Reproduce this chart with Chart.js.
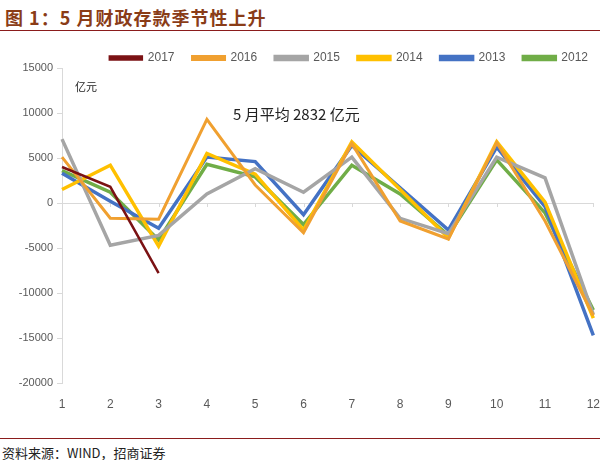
<!DOCTYPE html>
<html>
<head>
<meta charset="utf-8">
<script src="https://cdn.jsdelivr.net/npm/chart.js@4.4.0/dist/chart.umd.min.js"></script>
<style>
  body { margin: 0; width: 600px; height: 460px; background: #fff; position: relative; overflow: hidden; font-family: "Noto Sans CJK SC", sans-serif; }
  .title { position: absolute; left: 5px; top: 4px; font-size: 18px; font-weight: bold; color: #8a3c17; letter-spacing: 1px; }
  .rule { position: absolute; left: 0; width: 600px; height: 0; border-top: 1.5px solid #8b1c1c; }
  .src { position: absolute; left: 2px; top: 443px; font-size: 13px; color: #222; }
  .note { position: absolute; color: #222; white-space: nowrap; }
  #wrap { position: absolute; left: 0; top: 34px; width: 606px; height: 378px; }
</style>
</head>
<body>
<div class="title">图 1：5 月财政存款季节性上升</div>
<div class="rule" style="top:30px"></div>
<div id="wrap"><canvas id="c"></canvas></div>
<div class="note" style="left:75px; top:78px; font-size:11px;">亿元</div>
<div class="note" style="left:233px; top:103px; font-size:15px;">5 月平均 2832 亿元</div>
<div class="rule" style="top:438px"></div>
<div class="src">资料来源：WIND，招商证券</div>

<script>
// months on the x axis
const months = ['1', '2', '3', '4', '5', '6', '7', '8', '9', '10', '11', '12'];

// monthly change of fiscal deposits, 亿元
const y2017 = [4000, 1800, -7800, null, null, null, null, null, null, null, null, null];
const y2016 = [5100, -1700, -1800, 9300, 2000, -3300, 6600, -2000, -4000, 6700, -2000, -12500];
const y2015 = [7100, -4700, -3600, 1000, 3800, 1200, 5100, -1700, -3400, 5100, 2800, -12400];
const y2014 = [1500, 4200, -4800, 5500, 3200, -3000, 6800, 1500, -3900, 6800, 100, -12800];
const y2013 = [3300, 200, -2800, 5100, 4600, -1300, 6400, 1700, -3000, 6200, -400, -14700];
const y2012 = [3600, 1200, -4100, 4300, 2900, -2400, 4200, 1000, -3600, 4800, -1100, -11900];

const yTicks = [15000, 10000, 5000, 0, -5000, -10000, -15000, -20000];

const tickGrey = '#595959';

function line(label, data, color, width) {
  return {
    label: label,
    data: data,
    borderColor: color,
    backgroundColor: color,
    borderWidth: width,
    pointRadius: 0,
    tension: 0,
    spanGaps: false
  };
}

// small tick marks sitting on the zero line, like the excel original
const zeroTicks = {
  id: 'zeroTicks',
  beforeDatasetsDraw(chart) {
    const ctx = chart.ctx;
    const x = chart.scales.x, y = chart.scales.y;
    const y0 = y.getPixelForValue(0);
    ctx.save();
    ctx.strokeStyle = '#d9d9d9';
    ctx.lineWidth = 1;
    months.forEach((m, i) => {
      const px = Math.round(x.getPixelForValue(i)) + 0.5;
      ctx.beginPath();
      ctx.moveTo(px, y0);
      ctx.lineTo(px, y0 + 4);
      ctx.stroke();
    });
    ctx.restore();
  }
};

const chart = new Chart(document.getElementById('c'), {
  type: 'line',
  data: {
    labels: months,
    datasets: [
      line('2017', y2017, '#7b1214', 2.5),
      line('2016', y2016, '#f0a030', 3),
      line('2015', y2015, '#a5a5a5', 3.5),
      line('2014', y2014, '#ffc000', 3.5),
      line('2013', y2013, '#4472c4', 3.5),
      line('2012', y2012, '#70ad47', 3.5)
    ]
  },
  plugins: [zeroTicks],
  options: {
    responsive: true,
    maintainAspectRatio: false,
    animation: false,
    layout: { padding: { left: 0, right: 0, top: 0, bottom: 0 } },
    plugins: {
      legend: {
        position: 'top',
        align: 'end',
        labels: {
          boxWidth: 32,
          boxHeight: 3,
          padding: 18,
          color: tickGrey,
          font: { family: 'Liberation Sans', size: 12 }
        }
      },
      tooltip: { enabled: false }
    },
    scales: {
      x: {
        offset: false,
        grid: { display: false },
        border: { display: false },
        ticks: { color: tickGrey, font: { family: 'Liberation Sans', size: 12 }, padding: 6, maxRotation: 0 },
        afterFit(scale) { scale.height = 29; }
      },
      y: {
        min: -20000,
        max: 15000,
        afterBuildTicks(scale) { scale.ticks = yTicks.map(v => ({ value: v })); },
        grid: {
          color: ctx => (ctx.tick && ctx.tick.value === 0 ? '#d9d9d9' : 'rgba(0,0,0,0)'),
          tickColor: '#d9d9d9',
          tickLength: 5
        },
        border: { display: true, color: '#d9d9d9' },
        ticks: {
          color: tickGrey,
          font: { family: 'Liberation Sans', size: 11 },
          padding: 4,
          callback: v => String(v)
        },
        afterFit(scale) { scale.width = 62; }
      }
    }
  }
});

// pin the legend height so the plot top lands on the 15000 line
const fitLegend = chart.legend.fit;
chart.legend.fit = function () {
  fitLegend.call(this);
  this.height = 34;
};
chart.update();
</script>
</body>
</html>
